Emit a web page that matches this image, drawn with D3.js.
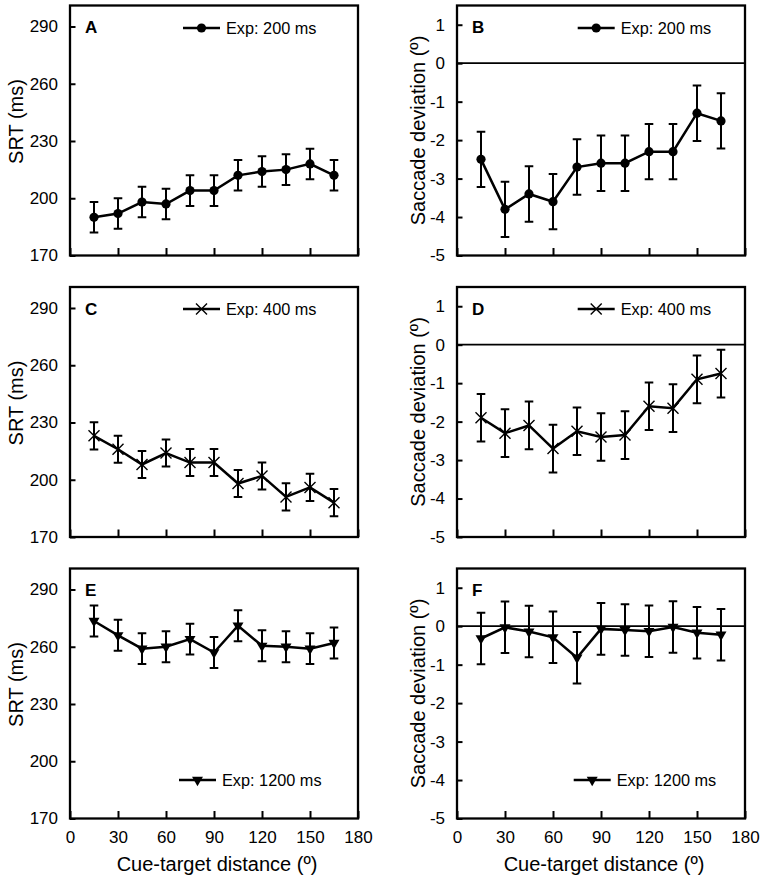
<!DOCTYPE html>
<html>
<head>
<meta charset="utf-8">
<script src="https://cdn.jsdelivr.net/npm/d3@7"></script>
<style>
  html, body { margin: 0; padding: 0; background: #fff; }
  svg { display: block; font-family: "Liberation Sans", Arial, Helvetica, sans-serif; }
</style>
</head>
<body>
<svg id="chart" width="764" height="881"></svg>
<script>
// ---------------- data ----------------
const distances = [15, 30, 45, 60, 75, 90, 105, 120, 135, 150, 165];
const xTicks = [0, 30, 60, 90, 120, 150, 180];
const srtTicks = [170, 200, 230, 260, 290];
const devTicks = [-5, -4, -3, -2, -1, 0, 1];

const srt200  = [190, 192, 198, 197, 204, 204, 212, 214, 215, 218, 212];
const srt200Err = [8, 8, 8, 8, 8, 8, 8, 8, 8, 8, 8];
const srt400  = [223, 216, 208, 214, 209, 209, 198, 202, 191, 196, 188];
const srt400Err = [7.1, 7.1, 7.1, 7.1, 7.1, 7.1, 7.1, 7.1, 7.1, 7.1, 7.1];
const srt1200 = [273.5, 266, 259, 260, 264, 257, 271, 260.5, 260, 259, 262];
const srt1200Err = [8.1, 8.1, 8.1, 8.1, 8.1, 8.1, 8.1, 8.1, 8.1, 8.1, 8.1];

const dev200  = [-2.5, -3.8, -3.4, -3.6, -2.7, -2.6, -2.6, -2.3, -2.3, -1.3, -1.5];
const dev200Err = [0.72, 0.72, 0.72, 0.72, 0.72, 0.72, 0.72, 0.72, 0.72, 0.72, 0.72];
const dev400  = [-1.9, -2.3, -2.1, -2.7, -2.25, -2.4, -2.35, -1.6, -1.65, -0.9, -0.75];
const dev400Err = [0.62, 0.62, 0.62, 0.62, 0.62, 0.62, 0.62, 0.62, 0.62, 0.62, 0.62];
const dev1200 = [-0.32, -0.03, -0.14, -0.29, -0.82, -0.07, -0.1, -0.13, -0.02, -0.17, -0.22];
const dev1200Err = [0.67, 0.67, 0.67, 0.67, 0.67, 0.67, 0.67, 0.67, 0.67, 0.67, 0.67];

const legendLabels = ["Exp: 200 ms", "Exp: 400 ms", "Exp: 1200 ms"];
const panelLetters = ["A", "B", "C", "D", "E", "F"];
const srtTitle = "SRT (ms)";
const devTitle = "Saccade deviation (º)";
const xTitle = "Cue-target distance (º)";

// ---------------- layout ----------------
const svg = d3.select("#chart");
const colX = [70, 457], colW = 288;
const rowY = [5.5, 287, 568.5], rowH = 250;

const panels = [
  {letter: panelLetters[0], col: 0, row: 0, type: "srt", vals: srt200,  err: srt200Err,  marker: "circle",   label: legendLabels[0], lx: 183,   ly: 28},
  {letter: panelLetters[1], col: 1, row: 0, type: "dev", vals: dev200,  err: dev200Err,  marker: "circle",   label: legendLabels[0], lx: 577.7, ly: 28},
  {letter: panelLetters[2], col: 0, row: 1, type: "srt", vals: srt400,  err: srt400Err,  marker: "cross",    label: legendLabels[1], lx: 183,   ly: 309},
  {letter: panelLetters[3], col: 1, row: 1, type: "dev", vals: dev400,  err: dev400Err,  marker: "cross",    label: legendLabels[1], lx: 577.7, ly: 309},
  {letter: panelLetters[4], col: 0, row: 2, type: "srt", vals: srt1200, err: srt1200Err, marker: "triangle", label: legendLabels[2], lx: 179,   ly: 780},
  {letter: panelLetters[5], col: 1, row: 2, type: "dev", vals: dev1200, err: dev1200Err, marker: "triangle", label: legendLabels[2], lx: 573.7, ly: 780}
];

function drawMarker(g, type, x, y) {
  if (type === "circle") {
    g.append("circle").attr("cx", x).attr("cy", y).attr("r", 4.6).attr("fill", "#000");
  } else if (type === "cross") {
    const s = 5.5;
    g.append("path")
      .attr("d", `M${x - s},${y - s}L${x + s},${y + s}M${x - s},${y + s}L${x + s},${y - s}`)
      .attr("stroke", "#000").attr("stroke-width", 1.4).attr("fill", "none");
  } else {
    g.append("path")
      .attr("d", d3.symbol().type(d3.symbolTriangle).size(52)())
      .attr("transform", `translate(${x},${y}) rotate(180)`)
      .attr("fill", "#000");
  }
}

const plainFmt = d => String(d);

panels.forEach(p => {
  const x0 = colX[p.col], y0 = rowY[p.row];
  const x = d3.scaleLinear().domain([0, 180]).range([x0, x0 + colW]);
  const y = p.type === "srt"
    ? d3.scaleLinear().domain([170, 301]).range([y0 + rowH, y0])
    : d3.scaleLinear().domain([-5, 1.5]).range([y0 + rowH, y0]);
  const yt = p.type === "srt" ? srtTicks : devTicks;
  const g = svg.append("g");

  // zero line
  if (p.type === "dev") {
    g.append("line").attr("x1", x0).attr("x2", x0 + colW)
      .attr("y1", y(0)).attr("y2", y(0))
      .attr("stroke", "#000").attr("stroke-width", 1.7);
  }

  // x ticks (inward at bottom)
  const xAxis = d3.axisBottom(x).tickValues(xTicks).tickSize(-7.5).tickPadding(12)
    .tickFormat(p.row === 2 ? plainFmt : () => "");
  const xg = g.append("g").attr("transform", `translate(0,${y0 + rowH})`).call(xAxis);
  xg.select(".domain").remove();
  xg.selectAll(".tick line").attr("stroke", "#000").attr("stroke-width", 2);
  xg.selectAll(".tick text").attr("font-size", 17).attr("fill", "#000")
    .attr("font-family", "Liberation Sans, Arial, sans-serif");

  // y ticks (inward)
  const yAxis = d3.axisLeft(y).tickValues(yt).tickSize(-5.5).tickPadding(12).tickFormat(plainFmt);
  const yg = g.append("g").attr("transform", `translate(${x0},0)`).call(yAxis);
  yg.select(".domain").remove();
  yg.selectAll(".tick line").attr("stroke", "#000").attr("stroke-width", 2);
  yg.selectAll(".tick text").attr("font-size", 17).attr("fill", "#000")
    .attr("font-family", "Liberation Sans, Arial, sans-serif");

  // frame
  g.append("rect").attr("x", x0).attr("y", y0).attr("width", colW).attr("height", rowH)
    .attr("fill", "none").attr("stroke", "#000").attr("stroke-width", 2.3);

  // y title
  if (p.type === "srt") {
    g.append("text").attr("transform", `translate(23,${y0 + rowH / 2 - 9}) rotate(-90)`)
      .attr("text-anchor", "middle").attr("font-size", 20).text(srtTitle);
  } else {
    g.append("text").attr("transform", `translate(424.5,${y0 + rowH / 2}) rotate(-90)`)
      .attr("text-anchor", "middle").attr("font-size", 20).text(devTitle);
  }

  // panel letter
  g.append("text").attr("x", x0 + 15).attr("y", y0 + 27.5)
    .attr("font-size", 17).attr("font-weight", "bold").text(p.letter);

  // error bars
  const cap = 4.3;
  distances.forEach((d, i) => {
    const cx = x(d), yt1 = y(p.vals[i] + p.err[i]), yb = y(p.vals[i] - p.err[i]);
    g.append("path")
      .attr("d", `M${cx},${yt1}L${cx},${yb}M${cx - cap},${yt1}L${cx + cap},${yt1}M${cx - cap},${yb}L${cx + cap},${yb}`)
      .attr("stroke", "#000").attr("stroke-width", 2).attr("fill", "none");
  });

  // line
  const line = d3.line().x((d, i) => x(distances[i])).y(d => y(d));
  g.append("path").datum(p.vals).attr("d", line)
    .attr("fill", "none").attr("stroke", "#000").attr("stroke-width", 2.5).attr("stroke-linejoin", "miter");

  // markers
  distances.forEach((d, i) => drawMarker(g, p.marker, x(d), y(p.vals[i])));

  // legend
  g.append("line").attr("x1", p.lx).attr("x2", p.lx + 37).attr("y1", p.ly).attr("y2", p.ly)
    .attr("stroke", "#000").attr("stroke-width", 2.5);
  drawMarker(g, p.marker, p.lx + 18.5, p.ly);
  g.append("text").attr("x", p.lx + 43).attr("y", p.ly + 5.8)
    .attr("font-size", 16.3).text(p.label);

  // x title on bottom row
  if (p.row === 2) {
    g.append("text").attr("x", x0 + colW / 2 + 3).attr("y", 871)
      .attr("text-anchor", "middle").attr("font-size", 20).text(xTitle);
  }
});
</script>
</body>
</html>
